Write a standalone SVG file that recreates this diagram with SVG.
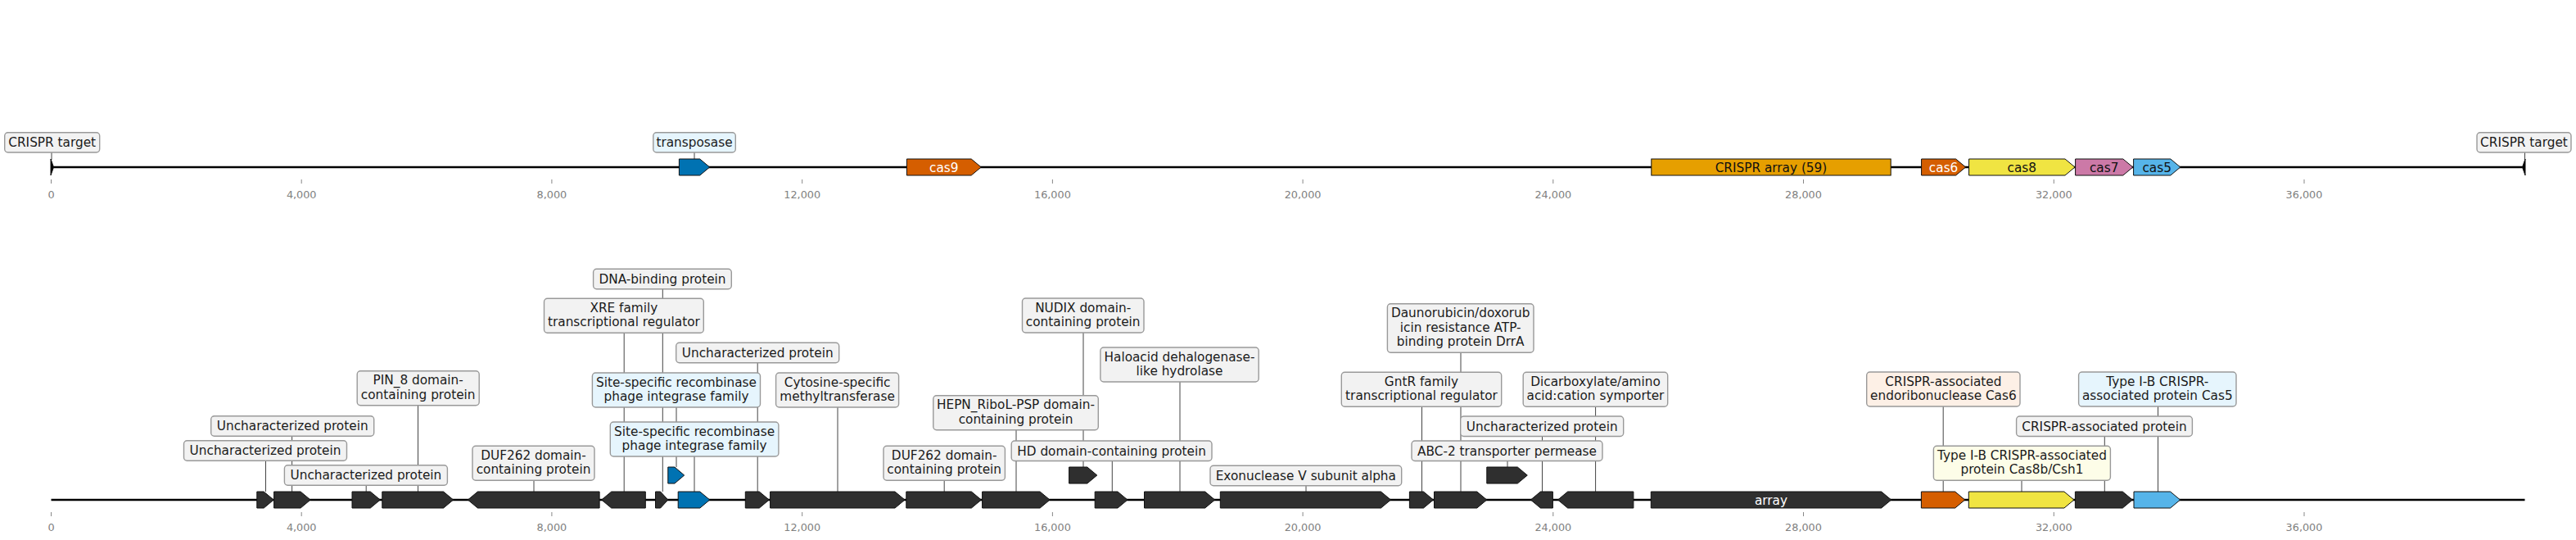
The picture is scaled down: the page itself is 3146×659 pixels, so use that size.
<svg xmlns="http://www.w3.org/2000/svg" width="3146" height="659" viewBox="0 0 3146 659">
<style>
text{font-family:"DejaVu Sans",Verdana,sans-serif;}
.bg{fill:#ffffff}
.track{stroke:#000;stroke-width:2.5;fill:none}
.tick{stroke:#888;stroke-width:1}
.tl{font-size:12.8px;fill:#808080;text-anchor:middle}
.conn{stroke:#444;stroke-width:1;fill:none}
.box{stroke:#999;stroke-width:1.4;fill:#f2f2f2}
.bb{fill:#e6f5fd}
.bo{fill:#fdf0e6}
.by{fill:#fdfde8}
.lt{font-size:15.3px;fill:#1a1a1a;text-anchor:middle}
.g{stroke:#111;stroke-width:1}
.k{fill:#2f2f2f}
.blue{fill:#0072b2}
.or{fill:#d55e00}
.ye{fill:#f0e442}
.pk{fill:#cc79a7}
.sk{fill:#56b4e9}
.am{fill:#e69f00}
.gt{font-size:15.3px;text-anchor:middle}
.w{fill:#ffffff}
.d{fill:#111111}
</style>
<rect class="bg" x="0" y="0" width="3146" height="659"/>

<g id="axes">
<line class="track" x1="62.5" y1="204" x2="3083.5" y2="204"/>
<line class="track" x1="62.5" y1="610" x2="3083.5" y2="610"/>
<g id="ticks-top">
<line class="tick" x1="62.5" y1="219" x2="62.5" y2="224"/><text class="tl" x="62.5" y="241.5">0</text>
<line class="tick" x1="368.2" y1="219" x2="368.2" y2="224"/><text class="tl" x="368.2" y="241.5">4,000</text>
<line class="tick" x1="673.9" y1="219" x2="673.9" y2="224"/><text class="tl" x="673.9" y="241.5">8,000</text>
<line class="tick" x1="979.7" y1="219" x2="979.7" y2="224"/><text class="tl" x="979.7" y="241.5">12,000</text>
<line class="tick" x1="1285.4" y1="219" x2="1285.4" y2="224"/><text class="tl" x="1285.4" y="241.5">16,000</text>
<line class="tick" x1="1591.1" y1="219" x2="1591.1" y2="224"/><text class="tl" x="1591.1" y="241.5">20,000</text>
<line class="tick" x1="1896.8" y1="219" x2="1896.8" y2="224"/><text class="tl" x="1896.8" y="241.5">24,000</text>
<line class="tick" x1="2202.5" y1="219" x2="2202.5" y2="224"/><text class="tl" x="2202.5" y="241.5">28,000</text>
<line class="tick" x1="2508.3" y1="219" x2="2508.3" y2="224"/><text class="tl" x="2508.3" y="241.5">32,000</text>
<line class="tick" x1="2814" y1="219" x2="2814" y2="224"/><text class="tl" x="2814" y="241.5">36,000</text>
</g>
<g id="ticks-bottom">
<line class="tick" x1="62.5" y1="625" x2="62.5" y2="630"/><text class="tl" x="62.5" y="647.5">0</text>
<line class="tick" x1="368.2" y1="625" x2="368.2" y2="630"/><text class="tl" x="368.2" y="647.5">4,000</text>
<line class="tick" x1="673.9" y1="625" x2="673.9" y2="630"/><text class="tl" x="673.9" y="647.5">8,000</text>
<line class="tick" x1="979.7" y1="625" x2="979.7" y2="630"/><text class="tl" x="979.7" y="647.5">12,000</text>
<line class="tick" x1="1285.4" y1="625" x2="1285.4" y2="630"/><text class="tl" x="1285.4" y="647.5">16,000</text>
<line class="tick" x1="1591.1" y1="625" x2="1591.1" y2="630"/><text class="tl" x="1591.1" y="647.5">20,000</text>
<line class="tick" x1="1896.8" y1="625" x2="1896.8" y2="630"/><text class="tl" x="1896.8" y="647.5">24,000</text>
<line class="tick" x1="2202.5" y1="625" x2="2202.5" y2="630"/><text class="tl" x="2202.5" y="647.5">28,000</text>
<line class="tick" x1="2508.3" y1="625" x2="2508.3" y2="630"/><text class="tl" x="2508.3" y="647.5">32,000</text>
<line class="tick" x1="2814" y1="625" x2="2814" y2="630"/><text class="tl" x="2814" y="647.5">36,000</text>
</g>
</g>

<g id="connectors">
<line class="conn" x1="63" y1="186" x2="63" y2="195"/>
<line class="conn" x1="848" y1="186" x2="848" y2="194"/>
<line class="conn" x1="3083.5" y1="186" x2="3083.5" y2="195"/>
<line class="conn" x1="356.6" y1="532" x2="356.6" y2="600"/>
<line class="conn" x1="324.5" y1="562" x2="324.5" y2="600"/>
<line class="conn" x1="447.2" y1="592" x2="447.2" y2="600"/>
<line class="conn" x1="510.5" y1="494.7" x2="510.5" y2="600"/>
<line class="conn" x1="652" y1="586.3" x2="652" y2="600"/>
<line class="conn" x1="762.2" y1="406.3" x2="762.2" y2="600"/>
<line class="conn" x1="809.3" y1="352.8" x2="809.3" y2="600"/>
<line class="conn" x1="826" y1="497" x2="826" y2="570"/>
<line class="conn" x1="848" y1="557" x2="848" y2="600"/>
<line class="conn" x1="925.2" y1="442.8" x2="925.2" y2="600"/>
<line class="conn" x1="1023" y1="497" x2="1023" y2="600"/>
<line class="conn" x1="1153.2" y1="586.3" x2="1153.2" y2="600"/>
<line class="conn" x1="1241" y1="524.7" x2="1241" y2="600"/>
<line class="conn" x1="1323" y1="406" x2="1323" y2="570"/>
<line class="conn" x1="1358.3" y1="562.5" x2="1358.3" y2="600"/>
<line class="conn" x1="1441" y1="466" x2="1441" y2="600"/>
<line class="conn" x1="1595" y1="592.8" x2="1595" y2="600"/>
<line class="conn" x1="1736.5" y1="496.3" x2="1736.5" y2="600"/>
<line class="conn" x1="1784" y1="430.2" x2="1784" y2="600"/>
<line class="conn" x1="1841" y1="562.5" x2="1841" y2="570"/>
<line class="conn" x1="1883.5" y1="532.5" x2="1883.5" y2="600"/>
<line class="conn" x1="1948.6" y1="496.3" x2="1948.6" y2="600"/>
<line class="conn" x1="2373.2" y1="496" x2="2373.2" y2="600"/>
<line class="conn" x1="2469" y1="586.3" x2="2469" y2="600"/>
<line class="conn" x1="2570.3" y1="532.5" x2="2570.3" y2="600"/>
<line class="conn" x1="2635.5" y1="496" x2="2635.5" y2="600"/>
</g>

<g id="top-track">
<g id="crispr-target-left">
<polygon class="g" fill="#000" points="62,194 65.5,204 62,214"/>
<rect class="box" x="5.7" y="161.7" width="116" height="24.3" rx="4"/>
<text class="lt" x="63.7" y="179.3">CRISPR target</text>
</g>
<g id="transposase-top">
<polygon class="g blue" points="829.4,194 854.7,194 866.7,204 854.7,214 829.4,214"/>
<rect class="box bb" x="797.8" y="161.7" width="100.5" height="24.3" rx="4"/>
<text class="lt" x="848" y="179.3">transposase</text>
</g>
<g id="cas9-top">
<polygon class="g or" points="1107.4,194 1186.2,194 1198.2,204 1186.2,214 1107.4,214"/>
<text class="gt w" x="1152.8" y="209.5">cas9</text>
</g>
<g id="crispr-array-top">
<rect class="g am" x="2016.8" y="194" width="292.4" height="20"/>
<text class="gt d" x="2163" y="209.5">CRISPR array (59)</text>
</g>
<g id="cas6-top">
<polygon class="g or" points="2346.6,194 2388.6,194 2400.6,204 2388.6,214 2346.6,214"/>
<text class="gt w" x="2373.6" y="209.5">cas6</text>
</g>
<g id="cas8-top">
<polygon class="g ye" points="2404.6,194 2522,194 2534,204 2522,214 2404.6,214"/>
<text class="gt d" x="2469.3" y="209.5">cas8</text>
</g>
<g id="cas7-top">
<polygon class="g pk" points="2534.6,194 2592.8,194 2604.8,204 2592.8,214 2534.6,214"/>
<text class="gt d" x="2569.7" y="209.5">cas7</text>
</g>
<g id="cas5-top">
<polygon class="g sk" points="2605.6,194 2650.8,194 2662.8,204 2650.8,214 2605.6,214"/>
<text class="gt d" x="2634.2" y="209.5">cas5</text>
</g>
<g id="crispr-target-right">
<polygon class="g" fill="#000" points="3084,194 3080.5,204 3084,214"/>
<rect class="box" x="3025" y="161.7" width="115" height="24.3" rx="4"/>
<text class="lt" x="3082.5" y="179.3">CRISPR target</text>
</g>
</g>

<g id="bottom-track">
<g id="g01"><polygon class="g k" points="313.8,600 322.2,600 334.2,610 322.2,620 313.8,620"/>
<rect class="box" x="224.5" y="537.7" width="199" height="24.5" rx="4"/><text class="lt" x="324" y="555.4">Uncharacterized protein</text></g>
<g id="g02"><polygon class="g k" points="334.6,600 367.1,600 379.1,610 367.1,620 334.6,620"/>
<rect class="box" x="257.7" y="507.7" width="199" height="24.5" rx="4"/><text class="lt" x="357.2" y="525.4">Uncharacterized protein</text></g>
<g id="g03"><polygon class="g k" points="430,600 452.3,600 464.3,610 452.3,620 430,620"/>
<rect class="box" x="347.4" y="567.7" width="199" height="24.5" rx="4"/><text class="lt" x="446.9" y="585.4">Uncharacterized protein</text></g>
<g id="g04"><polygon class="g k" points="466.8,600 541.6,600 553.6,610 541.6,620 466.8,620"/>
<rect class="box" x="436.2" y="452.7" width="149" height="42" rx="4"/><text class="lt" x="510.7" y="469.2">PIN_8 domain-</text><text class="lt" x="510.7" y="486.7">containing protein</text></g>
<g id="g05"><polygon class="g k" points="732.1,600 583.4,600 571.4,610 583.4,620 732.1,620"/>
<rect class="box" x="577" y="544.3" width="149" height="42" rx="4"/><text class="lt" x="651.5" y="560.8">DUF262 domain-</text><text class="lt" x="651.5" y="578.3">containing protein</text></g>
<g id="g06"><polygon class="g k" points="788.3,600 746.7,600 734.7,610 746.7,620 788.3,620"/>
<rect class="box" x="664.5" y="364.3" width="194.8" height="42" rx="4"/><text class="lt" x="761.9" y="380.8">XRE family</text><text class="lt" x="761.9" y="398.3">transcriptional regulator</text></g>
<g id="g07"><polygon class="g k" points="800.5,600 806.6,600 815.8,610 806.6,620 800.5,620"/>
<rect class="box" x="724.6" y="328.3" width="168.7" height="24.5" rx="4"/><text class="lt" x="809" y="346">DNA-binding protein</text></g>
<g id="g08"><polygon class="g blue" points="815.8,570 823.9,570 835.7,580 823.9,590 815.8,590"/>
<rect class="box bb" x="723.4" y="455" width="205.1" height="42" rx="4"/><text class="lt" x="826" y="471.5">Site-specific recombinase</text><text class="lt" x="826" y="489">phage integrase family</text></g>
<g id="g09"><polygon class="g blue" points="828.2,600 854.8,600 866.8,610 854.8,620 828.2,620"/>
<rect class="box bb" x="745.3" y="515" width="205.6" height="42" rx="4"/><text class="lt" x="848.1" y="531.5">Site-specific recombinase</text><text class="lt" x="848.1" y="549">phage integrase family</text></g>
<g id="g10"><polygon class="g k" points="910.3,600 927.3,600 939.3,610 927.3,620 910.3,620"/>
<rect class="box" x="825.7" y="418.3" width="199" height="24.5" rx="4"/><text class="lt" x="925.2" y="436">Uncharacterized protein</text></g>
<g id="g11"><polygon class="g k" points="940.6,600 1093,600 1105,610 1093,620 940.6,620"/>
<rect class="box" x="947.6" y="455" width="150" height="42" rx="4"/><text class="lt" x="1022.6" y="471.5">Cytosine-specific</text><text class="lt" x="1022.6" y="489">methyltransferase</text></g>
<g id="g12"><polygon class="g k" points="1106.8,600 1186.4,600 1198.4,610 1186.4,620 1106.8,620"/>
<rect class="box" x="1079" y="544.3" width="148.4" height="42" rx="4"/><text class="lt" x="1153.2" y="560.8">DUF262 domain-</text><text class="lt" x="1153.2" y="578.3">containing protein</text></g>
<g id="g13"><polygon class="g k" points="1199.6,600 1270.1,600 1282.1,610 1270.1,620 1199.6,620"/>
<rect class="box" x="1139.8" y="482.7" width="201.5" height="42" rx="4"/><text class="lt" x="1240.5" y="499.2">HEPN_RiboL-PSP domain-</text><text class="lt" x="1240.5" y="516.7">containing protein</text></g>
<g id="g14"><polygon class="g k" points="1305.6,570 1327.8,570 1339.8,580 1327.8,590 1305.6,590"/>
<rect class="box" x="1248.5" y="364" width="148.5" height="42" rx="4"/><text class="lt" x="1322.7" y="380.5">NUDIX domain-</text><text class="lt" x="1322.7" y="398">containing protein</text></g>
<g id="g15"><polygon class="g k" points="1337.2,600 1365,600 1377,610 1365,620 1337.2,620"/>
<rect class="box" x="1235.2" y="538" width="244.8" height="24.5" rx="4"/><text class="lt" x="1357.6" y="555.7">HD domain-containing protein</text></g>
<g id="g16"><polygon class="g k" points="1397.5,600 1471.7,600 1483.7,610 1471.7,620 1397.5,620"/>
<rect class="box" x="1343.9" y="424" width="193.3" height="42" rx="4"/><text class="lt" x="1440.5" y="440.5">Haloacid dehalogenase-</text><text class="lt" x="1440.5" y="458">like hydrolase</text></g>
<g id="g17"><polygon class="g k" points="1490.3,600 1686.5,600 1698.5,610 1686.5,620 1490.3,620"/>
<rect class="box" x="1478" y="568.3" width="233.7" height="24.5" rx="4"/><text class="lt" x="1594.8" y="586">Exonuclease V subunit alpha</text></g>
<g id="g18"><polygon class="g k" points="1721.4,600 1738.5,600 1750.5,610 1738.5,620 1721.4,620"/>
<rect class="box" x="1638.3" y="454.3" width="195.4" height="42" rx="4"/><text class="lt" x="1736" y="470.8">GntR family</text><text class="lt" x="1736" y="488.3">transcriptional regulator</text></g>
<g id="g19"><polygon class="g k" points="1751.5,600 1803.8,600 1815.8,610 1803.8,620 1751.5,620"/>
<rect class="box" x="1694.4" y="370.7" width="178.6" height="59.5" rx="4"/><text class="lt" x="1783.7" y="387.2">Daunorubicin/doxorub</text><text class="lt" x="1783.7" y="404.7">icin resistance ATP-</text><text class="lt" x="1783.7" y="422.2">binding protein DrrA</text></g>
<g id="g20"><polygon class="g k" points="1815.8,570 1853.3,570 1865.3,580 1853.3,590 1815.8,590"/>
<rect class="box" x="1724" y="538" width="233" height="24.5" rx="4"/><text class="lt" x="1840.5" y="555.7">ABC-2 transporter permease</text></g>
<g id="g21"><polygon class="g k" points="1896.4,600 1881.4,600 1869.4,610 1881.4,620 1896.4,620"/>
<rect class="box" x="1783.7" y="508" width="199" height="24.5" rx="4"/><text class="lt" x="1883.2" y="525.7">Uncharacterized protein</text></g>
<g id="g22"><polygon class="g k" points="1994.9,600 1914.6,600 1902.6,610 1914.6,620 1994.9,620"/>
<rect class="box" x="1860.2" y="454.3" width="176.5" height="42" rx="4"/><text class="lt" x="1948.5" y="470.8">Dicarboxylate/amino</text><text class="lt" x="1948.5" y="488.3">acid:cation symporter</text></g>
<g id="g23"><polygon class="g k" points="2016.3,600 2297.7,600 2309.7,610 2297.7,620 2016.3,620"/>
<text class="gt w" x="2163" y="615.5">array</text></g>
<g id="g24"><polygon class="g or" points="2346.4,600 2387.7,600 2399.7,610 2387.7,620 2346.4,620"/>
<rect class="box bo" x="2279.7" y="454" width="187.3" height="42" rx="4"/><text class="lt" x="2373.4" y="470.5">CRISPR-associated</text><text class="lt" x="2373.4" y="488">endoribonuclease Cas6</text></g>
<g id="g25"><polygon class="g ye" points="2404.3,600 2520.9,600 2532.9,610 2520.9,620 2404.3,620"/>
<rect class="box by" x="2361.4" y="544.3" width="216" height="42" rx="4"/><text class="lt" x="2469.4" y="560.8">Type I-B CRISPR-associated</text><text class="lt" x="2469.4" y="578.3">protein Cas8b/Csh1</text></g>
<g id="g26"><polygon class="g k" points="2534.4,600 2592.3,600 2604.3,610 2592.3,620 2534.4,620"/>
<rect class="box" x="2462.6" y="508" width="214.8" height="24.5" rx="4"/><text class="lt" x="2570" y="525.7">CRISPR-associated protein</text></g>
<g id="g27"><polygon class="g sk" points="2606,600 2650.6,600 2662.6,610 2650.6,620 2606,620"/>
<rect class="box bb" x="2538.6" y="454" width="192.4" height="42" rx="4"/><text class="lt" x="2634.8" y="470.5">Type I-B CRISPR-</text><text class="lt" x="2634.8" y="488">associated protein Cas5</text></g>
</g>
</svg>
